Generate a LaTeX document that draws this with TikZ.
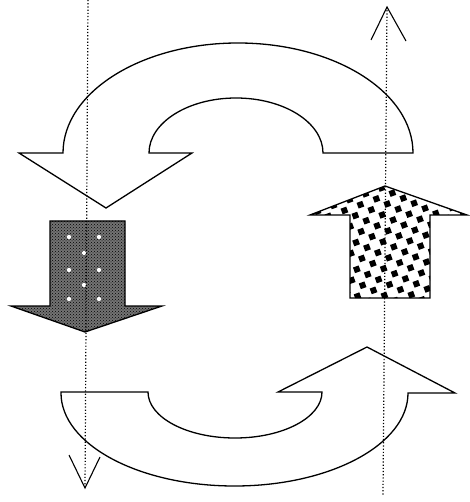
\documentclass[tikz,border=0pt]{standalone}
\usetikzlibrary{patterns,calc}

\begin{document}
\begin{tikzpicture}[
  x=1pt, y=-1pt,
  outline/.style={draw=black, line width=1.3pt, line join=miter},
  dotline/.style={draw=black, line width=1.2pt, dotted},
  chevron/.style={draw=black, line width=1.1pt}
]
\useasboundingbox (0,0) rectangle (469,502);

% ---- top curved arrow (right to left) ----
\draw[outline, fill=white] (63,153)
  arc[start angle=180, end angle=360, x radius=175, y radius=110]
  -- (323,153)
  arc[start angle=360, end angle=180, x radius=87, y radius=55]
  -- (192,153) -- (106,208) -- (19,153) -- cycle;

% ---- bottom curved arrow (left to right) ----
\draw[outline, fill=white] (61,392) -- (148,392)
  arc[start angle=180, end angle=0, x radius=87, y radius=46]
  -- (278,392) -- (367,347) -- (455,393) -- (408,393)
  arc[start angle=0, end angle=180, x radius=173.5, y radius=93]
  -- cycle;

% ---- left down arrow, dense dots ----
\coordinate (dtip) at (85,332);
\fill[black!55] (50,221) -- (125,221) -- (125,306) -- (162,306)
  -- (dtip) -- (11,306) -- (50,306) -- cycle;
\path[pattern=crosshatch dots, pattern color=black] (50,221) -- (125,221)
  -- (125,306) -- (162,306) -- (dtip) -- (11,306) -- (50,306) -- cycle;
\foreach \px/\py in {69/237, 99/237, 69/270, 99/270, 69/299, 99/299, 84/253, 84/285}{
  \fill[white] (\px,\py) circle (2.1);
}
\draw[outline] (50,221) -- (125,221) -- (125,306) -- (162,306)
  -- (dtip) -- (11,306) -- (50,306) -- cycle;

% ---- right up arrow, coarse squares ----
\begin{scope}
  \clip (350,298) -- (350,215) -- (310,215) -- (385,186) -- (467,215)
    -- (430,215) -- (430,298) -- cycle;
  \begin{scope}[rotate around={20:(390,245)}]
    \foreach \i in {-10,...,10}{
      \foreach \j in {-10,...,10}{
        \pgfmathparse{int(mod(\i+\j+20,2))}
        \ifnum\pgfmathresult=0
          \fill[black] ($(390,245)+(\i*8.5,\j*8.5)$) rectangle +(6,6);
        \fi
      }
    }
  \end{scope}
\end{scope}
\draw[outline] (350,298) -- (350,215) -- (310,215) -- (385,186) -- (467,215)
  -- (430,215) -- (430,298) -- cycle;

% ---- dotted axes with open tips ----
\coordinate (ltop) at (88,0);
\coordinate (lbot) at (85,488);
\coordinate (rtop) at (387,7);
\coordinate (rbot) at (383,495);
\draw[dotline] (ltop) -- (lbot);
\draw[dotline] (rtop) -- (rbot);
\draw[chevron] (69,455) -- (lbot) -- (100,457);
\draw[chevron] (371,40) -- (rtop) -- (406,41);
\end{tikzpicture}
\end{document}
